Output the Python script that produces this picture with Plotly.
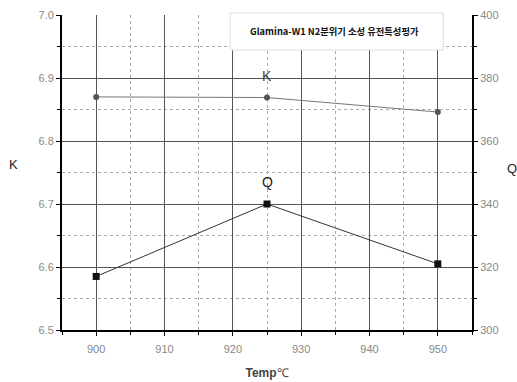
import plotly.graph_objects as go

temps = [900, 925, 950]
k_values = [6.87, 6.869, 6.846]
q_values = [317, 340, 321]
title_text = "Glamina-W1 N2분위기 소성 유전특성평가"

fig = go.Figure()
fig.add_trace(go.Scatter(x=temps, y=k_values, mode="lines+markers", name="K",
                         line=dict(color="#777777", width=1),
                         marker=dict(symbol="circle", size=6, color="#555555")))
fig.add_trace(go.Scatter(x=temps, y=q_values, mode="lines+markers", name="Q", yaxis="y2",
                         line=dict(color="#333333", width=1),
                         marker=dict(symbol="square", size=7, color="#111111")))

fig.add_annotation(x=925, y=k_values[1], yshift=22, text="K", showarrow=False,
                   font=dict(size=14, color="#444444", family="Liberation Sans"))
fig.add_annotation(x=925, y=q_values[1], yref="y2", yshift=22, text="Q", showarrow=False,
                   font=dict(size=14, color="#222222", family="Liberation Sans"))

# upright axis titles
fig.add_annotation(xref="paper", yref="paper", x=-0.1195, y=0.524, xanchor="center", yanchor="middle",
                   text="K", showarrow=False, font=dict(size=13, color="#222222", family="Liberation Sans"))
fig.add_annotation(xref="paper", yref="paper", x=1.0976, y=0.514, xanchor="center", yanchor="middle",
                   text="Q", showarrow=False, font=dict(size=13, color="#222222", family="Liberation Sans"))

# title box
fig.add_shape(type="rect", xref="paper", yref="paper", x0=0.410, x1=0.93, y0=0.889, y1=1.006,
              fillcolor="white", line=dict(color="#dddddd", width=1), layer="above")
fig.add_annotation(xref="paper", yref="paper", x=0.665, y=0.948, xanchor="center", yanchor="middle",
                   text="<b>" + title_text + "</b>", showarrow=False,
                   font=dict(size=9.3, color="#111111", family="Noto Sans CJK KR"))

fig.update_layout(
    width=517, height=382,
    margin=dict(l=62, r=45, t=15, b=52),
    paper_bgcolor="white", plot_bgcolor="white",
    showlegend=False,
    font=dict(family="Liberation Sans", size=11, color="#888888"),
    xaxis=dict(range=[895, 955], dtick=10, tick0=900, showline=True, linecolor="black", linewidth=2,
               ticks="outside", ticklen=4, tickcolor="black", automargin=False, ticklabelstandoff=4,
               showgrid=True, gridcolor="#555555", gridwidth=1,
               minor=dict(dtick=5, tick0=900, ticks="outside", ticklen=3, tickcolor="black",
                          showgrid=True, gridcolor="#aaaaaa", griddash="dot"),
               zeroline=False,
               title=dict(text="<b>Temp</b>℃", font=dict(size=12, color="#444444"), standoff=14)),
    yaxis=dict(range=[6.5, 7.0], dtick=0.1, tick0=6.5, tickformat=".1f", showline=True,
               linecolor="black", linewidth=2, ticks="outside", ticklen=4, tickcolor="black",
               automargin=False,
               showgrid=True, gridcolor="#555555", gridwidth=1,
               minor=dict(dtick=0.05, tick0=6.5, ticks="outside", ticklen=3, tickcolor="black",
                          showgrid=True, gridcolor="#aaaaaa", griddash="dot"),
               zeroline=False),
    yaxis2=dict(range=[300, 400], dtick=20, tick0=300, overlaying="y", side="right", showline=True,
                linecolor="black", linewidth=2, ticks="outside", ticklen=4, tickcolor="black",
                automargin=False,
                showgrid=False, zeroline=False,
                minor=dict(dtick=10, tick0=300, ticks="outside", ticklen=3, tickcolor="black", showgrid=False)),
)

fig.write_html("out.html", config={"displayModeBar": False},
               post_script="document.body.style.margin='0';document.body.style.padding='0';")
